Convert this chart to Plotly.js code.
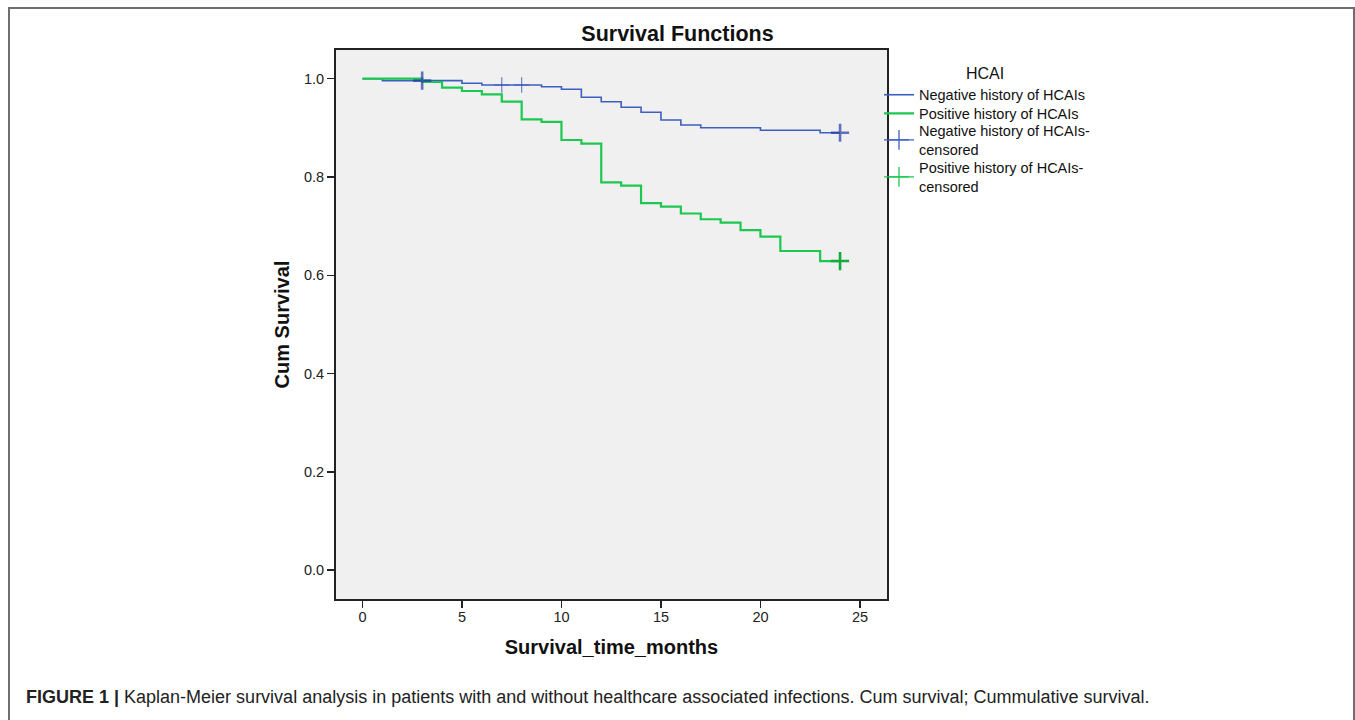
<!DOCTYPE html>
<html>
<head>
<meta charset="utf-8">
<script src="https://cdn.plot.ly/plotly-3.0.1.min.js"></script>
<style>
  html, body { margin: 0; padding: 0; background: #ffffff; }
  #wrap { position: relative; width: 1355px; height: 720px; overflow: hidden; }
  #chart { position: absolute; left: 0; top: 0; width: 1355px; height: 720px; }
  #frame { position: absolute; left: 8px; top: 7px; width: 1343px; height: 730px;
           border: 2px solid #6e6e6e; pointer-events: none; }
</style>
</head>
<body>
<div id="wrap">
  <div id="chart"></div>
  <div id="frame"></div>
</div>
<script>
// ---- Data (Kaplan-Meier steps) ----
const negTimes = [0, 1, 5, 6, 9, 10, 11, 12, 13, 14, 15, 16, 17, 20, 23, 24];
const negSurv  = [1.0, 0.996, 0.9906, 0.9872, 0.9837, 0.9784, 0.9622, 0.9532, 0.9418, 0.9316, 0.916, 0.9058, 0.9003, 0.895, 0.890, 0.890];

const posTimes = [0, 3, 4, 5, 6, 7, 8, 9, 10, 11, 12, 13, 14, 15, 16, 17, 18, 19, 20, 21, 23, 24];
const posSurv  = [1.0, 0.9933, 0.9817, 0.975, 0.968, 0.9532, 0.9174, 0.912, 0.8753, 0.8678, 0.789, 0.7823, 0.7467, 0.7396, 0.7257, 0.714, 0.707, 0.692, 0.6785, 0.6494, 0.629, 0.629];

const negCensTimes = [3, 7, 8, 24];
const negCensSurv  = [0.996, 0.9872, 0.9872, 0.890];
const negCensWeight = [2.6, 1.2, 1.2, 2.6];
const negCensSize   = [13, 11, 11, 13];

const posCensTimes = [24];
const posCensSurv  = [0.629];

const xTicks = [0, 5, 10, 15, 20, 25];
const yTicks = [0.0, 0.2, 0.4, 0.6, 0.8, 1.0];
const yTickText = ['0.0', '0.2', '0.4', '0.6', '0.8', '1.0'];

const legendNames = ['Negative history of HCAIs', 'Positive history of HCAIs',
                     'Negative history of HCAIs-<br>censored', 'Positive history of HCAIs-<br>censored'];

// ---- Styles ----
const blue = '#3d5fc0', blueDark = '#1f3da6', blueThin = '#3250b8';
const green = '#1cc850', greenDark = '#16a93c';
const FONT = 'Arial, "Liberation Sans", Helvetica, sans-serif';

// ---- Plot geometry (pixels) ----
const W = 1355, H = 720;
const L = 336, R = 887, T = 50, B = 599;
const px2x = p => (p - L) / (R - L);
const px2y = p => (B - p) / (B - T);

const traces = [
  { x: negTimes, y: negSurv, type: 'scatter', mode: 'lines', line: { shape: 'hv', color: blue, width: 1.6 },
    name: legendNames[0], legend: 'legend', hoverinfo: 'x+y' },
  { x: posTimes, y: posSurv, type: 'scatter', mode: 'lines', line: { shape: 'hv', color: green, width: 2.2 },
    name: legendNames[1], legend: 'legend2', hoverinfo: 'x+y' },
  { x: negCensTimes, y: negCensSurv, type: 'scatter', mode: 'markers', showlegend: false,
    marker: { symbol: 'cross-thin', size: negCensSize, color: blueDark,
              line: { color: [blueDark, blueThin, blueThin, blueDark], width: negCensWeight } } },
  { x: posCensTimes, y: posCensSurv, type: 'scatter', mode: 'markers', showlegend: false,
    marker: { symbol: 'cross-thin', size: 13, color: greenDark, line: { color: greenDark, width: 2.6 } } },
  // legend entries for censored marks
  { x: [null], y: [null], type: 'scatter', mode: 'lines+markers', name: legendNames[2], legend: 'legend3',
    line: { color: blue, width: 1.3 },
    marker: { symbol: 'cross-thin', size: 14, color: blue, line: { color: blue, width: 1.3 } } },
  { x: [null], y: [null], type: 'scatter', mode: 'lines+markers', name: legendNames[3], legend: 'legend4',
    line: { color: green, width: 1.3 },
    marker: { symbol: 'cross-thin', size: 14, color: green, line: { color: green, width: 1.3 } } }
];

const legendBase = {
  x: px2x(879), xanchor: 'left', xref: 'paper', yref: 'paper',
  bgcolor: 'rgba(0,0,0,0)', borderwidth: 0,
  itemwidth: 30, tracegroupgap: 0,
  font: { family: FONT, size: 14.5, color: '#111' },
  itemclick: false, itemdoubleclick: false
};

const layout = {
  width: W, height: H,
  margin: { l: L, r: W - R, t: T, b: H - B, pad: 0 },
  paper_bgcolor: '#ffffff',
  plot_bgcolor: '#f0f0f0',
  font: { family: FONT, color: '#1a1a1a', size: 14 },
  title: { text: '<b>Survival Functions</b>', font: { family: FONT, size: 21.5, color: '#111' },
           x: 0.5, xref: 'container', xanchor: 'center', y: 1 - 33 / H, yref: 'container', yanchor: 'middle' },
  xaxis: {
    range: [-1.33, 26.36], tickvals: xTicks, ticktext: xTicks.map(String),
    showgrid: false, zeroline: false, showline: true, mirror: true, linecolor: '#222', linewidth: 2,
    ticks: 'outside', ticklen: 7, tickwidth: 1.5, tickcolor: '#222', ticklabelstandoff: -3,
    tickfont: { family: FONT, size: 14.5, color: '#222' },
    title: { text: '<b>Survival_time_months</b>', font: { family: FONT, size: 20, color: '#111' }, standoff: 16 }
  },
  yaxis: {
    range: [-0.0586, 1.0584], tickvals: yTicks, ticktext: yTickText,
    showgrid: false, zeroline: false, showline: true, mirror: true, linecolor: '#222', linewidth: 2,
    ticks: 'outside', ticklen: 7, tickwidth: 1.5, tickcolor: '#222',
    tickfont: { family: FONT, size: 14.5, color: '#222' },
    title: { text: '<b>Cum Survival</b>', font: { family: FONT, size: 20, color: '#111' }, standoff: 9 }
  },
  showlegend: true,
  legend: Object.assign({}, legendBase, {
    y: px2y(58), yanchor: 'top',
    title: { text: 'HCAI', side: 'top center', font: { family: FONT, size: 16, color: '#111' } }
  }),
  legend2: Object.assign({}, legendBase, { y: px2y(113.5), yanchor: 'middle' }),
  legend3: Object.assign({}, legendBase, { y: px2y(140), yanchor: 'middle' }),
  legend4: Object.assign({}, legendBase, { y: px2y(177), yanchor: 'middle' }),
  annotations: [
    { xref: 'paper', yref: 'paper', x: px2x(24), y: px2y(697), xanchor: 'left', yanchor: 'middle',
      showarrow: false, align: 'left',
      text: '<b>FIGURE 1 |</b> Kaplan-Meier survival analysis in patients with and without healthcare associated infections. Cum survival; Cummulative survival.',
      font: { family: FONT, size: 18, color: '#222' } }
  ]
};

Plotly.newPlot('chart', traces, layout, { displayModeBar: false, staticPlot: true });
</script>
</body>
</html>
